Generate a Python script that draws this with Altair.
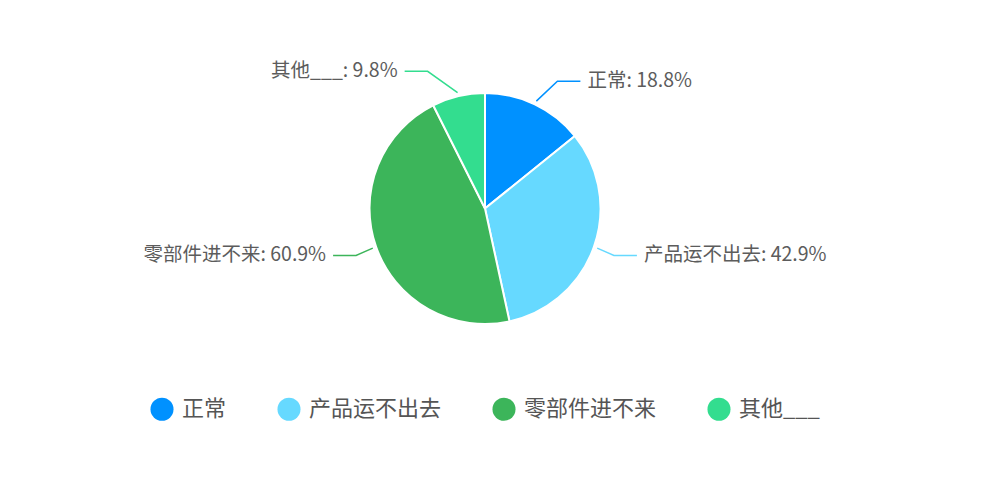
import altair as alt
import pandas as pd

categories = ["正常", "产品运不出去", "零部件进不来", "其他___"]
values = [18.8, 42.9, 60.9, 9.8]
colors = ["#0091FF", "#66D9FF", "#3CB55A", "#33DD8F"]

df = pd.DataFrame({"cat": categories, "v": values, "idx": list(range(len(categories)))})

W, H = 944, 391
CX, CY = W / 2, H / 2
R = 115.5      # pie radius
R0 = 119       # leader start radius
RE = 141       # leader elbow radius (vertical placement)
R3 = 159       # radius on which the leader end lies
SEG = 23       # horizontal leader length
GAP = 7        # gap between leader and text
FONT = "Noto Sans CJK SC"

base = alt.Chart(df)

pie = base.mark_arc(outerRadius=R, stroke="white", strokeWidth=2).encode(
    theta=alt.Theta("v:Q", stack=True),
    color=alt.Color(
        "cat:N",
        scale=alt.Scale(domain=categories, range=colors),
        sort=categories,
        legend=alt.Legend(
            title=None,
            orient="none",
            legendX=137,
            legendY=384,
            direction="horizontal",
            symbolType="circle",
            symbolSize=530,
            symbolStrokeWidth=0,
            labelFontSize=22,
            labelFont=FONT,
            labelColor="#555555",
            labelOffset=8,
            labelLimit=0,
            columnPadding=50,
        ),
    ),
    order=alt.Order("idx:Q"),
)

geo = (
    base.transform_joinaggregate(total="sum(v)")
    .transform_window(cum="sum(v)", sort=[alt.SortField("idx")], frame=[None, 0])
    .transform_calculate(
        a="2*PI*(datum.cum - datum.v/2)/datum.total",
    )
    .transform_calculate(s="sin(datum.a)", c="cos(datum.a)")
    .transform_calculate(
        ey=f"{CY} - {RE}*datum.c",
        side="datum.s >= 0 ? 1 : -1",
        label="datum.cat + ': ' + format(datum.v, '.1f') + '%'",
    )
    .transform_calculate(
        x3=f"{CX} + datum.side*sqrt({R3}*{R3} - ({RE}*datum.c)*({RE}*datum.c))",
    )
    .transform_calculate(
        ex=f"datum.x3 - datum.side*{SEG}",
        tx=f"datum.x3 + datum.side*{GAP}",
    )
)

lines = (
    geo.transform_calculate(step="[0,1,2]")
    .transform_flatten(["step"])
    .transform_calculate(
        px=f"datum.step == 0 ? {CX} + {R0}*datum.s : (datum.step == 1 ? datum.ex : datum.x3)",
        py=f"datum.step == 0 ? {CY} - {R0}*datum.c : datum.ey",
    )
    .mark_line(strokeWidth=1.5)
    .encode(
        x=alt.X("px:Q", scale=None, axis=None),
        y=alt.Y("py:Q", scale=None, axis=None),
        stroke=alt.Stroke("cat:N", scale=alt.Scale(domain=categories, range=colors), legend=None),
        detail="cat:N",
        order="step:Q",
    )
)

text_right = geo.transform_filter("datum.s >= 0").mark_text(
    align="left", baseline="middle", fontSize=19.5, font=FONT, color="#5c5c5c"
).encode(
    x=alt.X("tx:Q", scale=None, axis=None),
    y=alt.Y("ey:Q", scale=None, axis=None),
    text="label:N",
)

text_left = geo.transform_filter("datum.s < 0").mark_text(
    align="right", baseline="middle", fontSize=19.5, font=FONT, color="#5c5c5c"
).encode(
    x=alt.X("tx:Q", scale=None, axis=None),
    y=alt.Y("ey:Q", scale=None, axis=None),
    text="label:N",
)

chart = (
    alt.layer(pie, lines, text_right, text_left)
    .properties(width=W, height=H, background="white")
    .configure_view(stroke=None)
)

chart.save("out.html", embed_options={"renderer": "svg", "actions": False})
